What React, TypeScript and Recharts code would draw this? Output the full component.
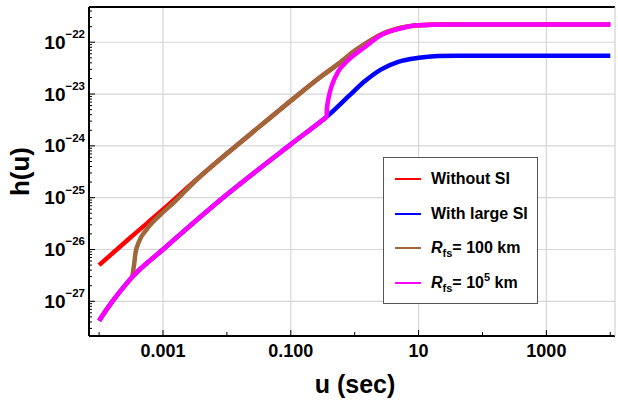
import React from 'react';
import { LineChart, Line, XAxis, YAxis, CartesianGrid, Legend, Label } from 'recharts';

// ---------------- data ----------------
const uWithout = [1e-4, 3.16e-4, 1e-3, 3.16e-3, 1e-2, 3.16e-2, 0.1, 0.316, 0.6, 1, 1.5, 2.5, 4.5, 10, 30, 100, 1e3, 1e4];
const hWithout = [5.0e-27, 1.74e-26, 5.9e-26, 2.1e-25, 7.1e-25, 2.3e-24, 7.4e-24, 2.3e-23, 4.1e-23, 6.8e-23, 9.5e-23, 1.38e-22, 1.8e-22, 2.14e-22, 2.19e-22, 2.2e-22, 2.2e-22, 2.2e-22];

const uLargeSI = [1e-4, 1.4e-4, 2e-4, 3.3e-4, 1e-3, 1e-2, 0.1, 0.33, 0.363, 0.79, 1.45, 2.6, 4.8, 10, 20, 40, 100, 1e3, 1e4];
const hLargeSI = [4.2e-28, 7.8e-28, 1.4e-27, 2.95e-27, 1.0e-26, 1.15e-25, 1.07e-24, 3.3e-24, 3.63e-24, 8.9e-24, 1.78e-23, 3.0e-23, 4.2e-23, 5.0e-23, 5.4e-23, 5.5e-23, 5.5e-23, 5.5e-23, 5.5e-23];

const uRfs100 = [3.3e-4, 3.55e-4, 3.7e-4, 4.2e-4, 5.4e-4, 7.2e-4, 1e-3, 1.6e-3, 2.5e-3, 4e-3, 1e-2, 3.16e-2, 0.1, 0.316, 0.6, 1, 1.5, 2.5, 4.5, 10, 30, 100, 1e3, 1e4];
const hRfs100 = [2.95e-27, 5.4e-27, 8.3e-27, 1.41e-26, 2.34e-26, 3.55e-26, 5.2e-26, 8.9e-26, 1.55e-25, 2.7e-25, 7.1e-25, 2.3e-24, 7.4e-24, 2.3e-23, 4.1e-23, 6.8e-23, 9.5e-23, 1.38e-22, 1.8e-22, 2.14e-22, 2.19e-22, 2.2e-22, 2.2e-22, 2.2e-22];

const uRfs1e5 = [1e-4, 1.4e-4, 2e-4, 3.3e-4, 1e-3, 1e-2, 0.1, 0.33, 0.363, 0.367, 0.38, 0.398, 0.44, 0.55, 0.79, 1.45, 2.6, 4.8, 10, 30, 100, 1e3, 1e4];
const hRfs1e5 = [4.2e-28, 7.8e-28, 1.4e-27, 2.95e-27, 1.0e-26, 1.15e-25, 1.07e-24, 3.3e-24, 3.63e-24, 5.0e-24, 7.1e-24, 9.5e-24, 1.48e-23, 2.7e-23, 4.5e-23, 8.1e-23, 1.38e-22, 1.8e-22, 2.14e-22, 2.19e-22, 2.2e-22, 2.2e-22, 2.2e-22];

const seriesNames = ['Without SI', 'With large SI', 'Rfs= 100 km', 'Rfs= 10^5 km'];
const seriesColors = ['#ff0000', '#0000ff', '#a0673a', '#ff00ff'];

const xTicks = [1e-4, 1e-3, 1e-2, 1e-1, 1, 10, 100, 1e3, 1e4];
const xLabelValues = [1e-3, 0.1, 10, 1000];
const xLabelTexts = ['0.001', '0.100', '10', '1000'];
const xGridValues = [1e-3, 0.1, 10, 1000];

const yDecadeExps = [-27, -26, -25, -24, -23, -22];
const yMinorExps = [-28, -27, -26, -25, -24, -23, -22];
const yMantissas = [1, 2, 3, 4, 5, 6, 7, 8, 9];

const xDomain = [6.95e-5, 1.186e4];
const yDomain = [2.14e-28, 4.79e-22];

// ---------------- layout ----------------
const W = 618;
const H = 400;
const M = { top: 6, right: 2, bottom: 34, left: 59 };
const X_AXIS_H = 30;
const Y_AXIS_W = 30;
const PLOT_L = M.left + Y_AXIS_W;
const PLOT_T = M.top + 1;
const PLOT_B = H - M.bottom - X_AXIS_H;
const FONT = '"Liberation Sans", Arial, Helvetica, sans-serif';

const zip = (us: number[], hs: number[]) => us.map((u, i) => ({ u, h: hs[i] }));
const seriesData = [zip(uWithout, hWithout), zip(uLargeSI, hLargeSI), zip(uRfs100, hRfs100), zip(uRfs1e5, hRfs1e5)];

const yTicks = yMinorExps
  .flatMap((e) => yMantissas.map((m) => m * Math.pow(10, e)))
  .filter((v) => v >= yDomain[0] && v <= yDomain[1]);
const yGridValues = yDecadeExps.map((e) => Math.pow(10, e));

const near = (a: number, b: number) => Math.abs(Math.log10(a) - Math.log10(b)) < 1e-6;

const XTickBottom = (props: any) => {
  const { x, payload } = props;
  const v = payload.value;
  const li = xLabelValues.findIndex((lv) => near(lv, v));
  const len = li >= 0 ? 6 : 4;
  return (
    <g>
      <line x1={x} x2={x} y1={PLOT_B} y2={PLOT_B - len} stroke="#000" strokeWidth={1} />
      {li >= 0 && (
        <text x={x} y={PLOT_B + 21} textAnchor="middle" fontFamily={FONT} fontWeight="bold" fontSize={18} fill="#000">
          {xLabelTexts[li]}
        </text>
      )}
    </g>
  );
};

const XTickTop = (props: any) => {
  const { x, payload } = props;
  const v = payload.value;
  const li = xLabelValues.findIndex((lv) => near(lv, v));
  const len = li >= 0 ? 6 : 4;
  return <line x1={x} x2={x} y1={PLOT_T} y2={PLOT_T + len} stroke="#000" strokeWidth={1} />;
};

const YTickLeft = (props: any) => {
  const { y, payload } = props;
  const v = payload.value;
  const lg = Math.log10(v);
  const e = Math.round(lg);
  const major = Math.abs(lg - e) < 1e-6;
  const showLabel = major && yDecadeExps.includes(e);
  return (
    <g>
      <line x1={PLOT_L} x2={PLOT_L + (major ? 6 : 3)} y1={y} y2={y} stroke="#000" strokeWidth={1} />
      {showLabel && (
        <text x={PLOT_L - 4} y={y + 6.5} textAnchor="end" fontFamily={FONT} fontWeight="bold" fontSize={19} fill="#000">
          10
          <tspan dy={-10.5} fontSize={11.5}>{'\u2212' + String(-e)}</tspan>
        </text>
      )}
    </g>
  );
};

const renderSeriesLabel = (i: number) => {
  const name = seriesNames[i];
  if (name.startsWith('Rfs')) {
    const rest = name.slice(3);
    const m = rest.match(/^(.*)10\^(\d+)(.*)$/);
    return (
      <span>
        <span style={{ fontStyle: 'italic' }}>R</span>
        <span style={{ fontSize: 11, position: 'relative', top: 4 }}>fs</span>
        {m ? (
          <>
            {m[1]}10
            <span style={{ fontSize: 11, position: 'relative', top: -7 }}>{m[2]}</span>
            {m[3]}
          </>
        ) : (
          rest
        )}
      </span>
    );
  }
  return <span>{name}</span>;
};

const LegendBox = () => (
  <div
    style={{
      width: 155,
      height: 147,
      border: '1px solid #555',
      boxSizing: 'border-box',
      background: '#fff',
      position: 'relative',
      fontFamily: FONT,
      fontWeight: 'bold',
      fontSize: 16,
      color: '#000',
    }}
  >
    {seriesNames.map((_, i) => (
      <div
        key={i}
        style={{
          position: 'absolute',
          left: 0,
          top: 11 + i * 34.7,
          height: 20,
          display: 'flex',
          alignItems: 'center',
          whiteSpace: 'nowrap',
        }}
      >
        <svg width={47} height={20} style={{ display: 'block' }}>
          <line x1={11} x2={37} y1={10} y2={10} stroke={seriesColors[i]} strokeWidth={2} />
        </svg>
        {renderSeriesLabel(i)}
      </div>
    ))}
  </div>
);

export default function App() {
  return (
    <div style={{ position: 'absolute', left: 0, top: 0, width: W, height: H, background: '#fff' }}>
      <LineChart width={W} height={H} margin={M}>
        <CartesianGrid
          xAxisId="b"
          yAxisId="l"
          horizontalValues={yGridValues}
          verticalValues={xGridValues}
          stroke="#d6d6d6"
          strokeWidth={1.2}
        />
        <XAxis
          xAxisId="b"
          dataKey="u"
          type="number"
          scale="log"
          domain={xDomain}
          allowDataOverflow
          ticks={xTicks}
          interval={0}
          height={X_AXIS_H}
          tickLine={false}
          axisLine={{ stroke: '#000', strokeWidth: 2 }}
          tick={(p: any) => <XTickBottom {...p} />}
        >
          <Label
            content={() => (
              <text x={355} y={392.5} textAnchor="middle" fontFamily={FONT} fontWeight="bold" fontSize={25} fill="#000">
                u (sec)
              </text>
            )}
          />
        </XAxis>
        <XAxis
          xAxisId="t"
          orientation="top"
          type="number"
          scale="log"
          domain={xDomain}
          allowDataOverflow
          ticks={xTicks}
          interval={0}
          height={1}
          tickLine={false}
          axisLine={{ stroke: '#000', strokeWidth: 2 }}
          tick={(p: any) => <XTickTop {...p} />}
        />
        <YAxis
          yAxisId="l"
          type="number"
          scale="log"
          domain={yDomain}
          allowDataOverflow
          ticks={yTicks}
          interval={0}
          width={Y_AXIS_W}
          tickLine={false}
          axisLine={{ stroke: '#000', strokeWidth: 2 }}
          tick={(p: any) => <YTickLeft {...p} />}
        >
          <Label
            content={() => (
              <text
                x={29}
                y={171.5}
                transform="rotate(-90 29 171.5)"
                textAnchor="middle"
                fontFamily={FONT}
                fontWeight="bold"
                fontSize={26}
                fill="#000"
              >
                h(u)
              </text>
            )}
          />
        </YAxis>
        <YAxis
          yAxisId="r"
          orientation="right"
          type="number"
          scale="log"
          domain={yDomain}
          allowDataOverflow
          width={1}
          tick={false}
          tickLine={false}
          axisLine={{ stroke: '#c8c8c8', strokeWidth: 1 }}
        />
        {seriesData.map((d, i) => (
          <Line
            key={seriesNames[i]}
            data={d}
            dataKey="h"
            name={seriesNames[i]}
            xAxisId="b"
            yAxisId="l"
            type="monotone"
            stroke={seriesColors[i]}
            strokeWidth={4.5}
            dot={false}
            activeDot={false}
            isAnimationActive={false}
          />
        ))}
        <Legend
          layout="vertical"
          align="center"
          verticalAlign="middle"
          wrapperStyle={{ left: 383, top: 157, width: 155, height: 147 }}
          content={() => <LegendBox />}
        />
      </LineChart>
    </div>
  );
}
